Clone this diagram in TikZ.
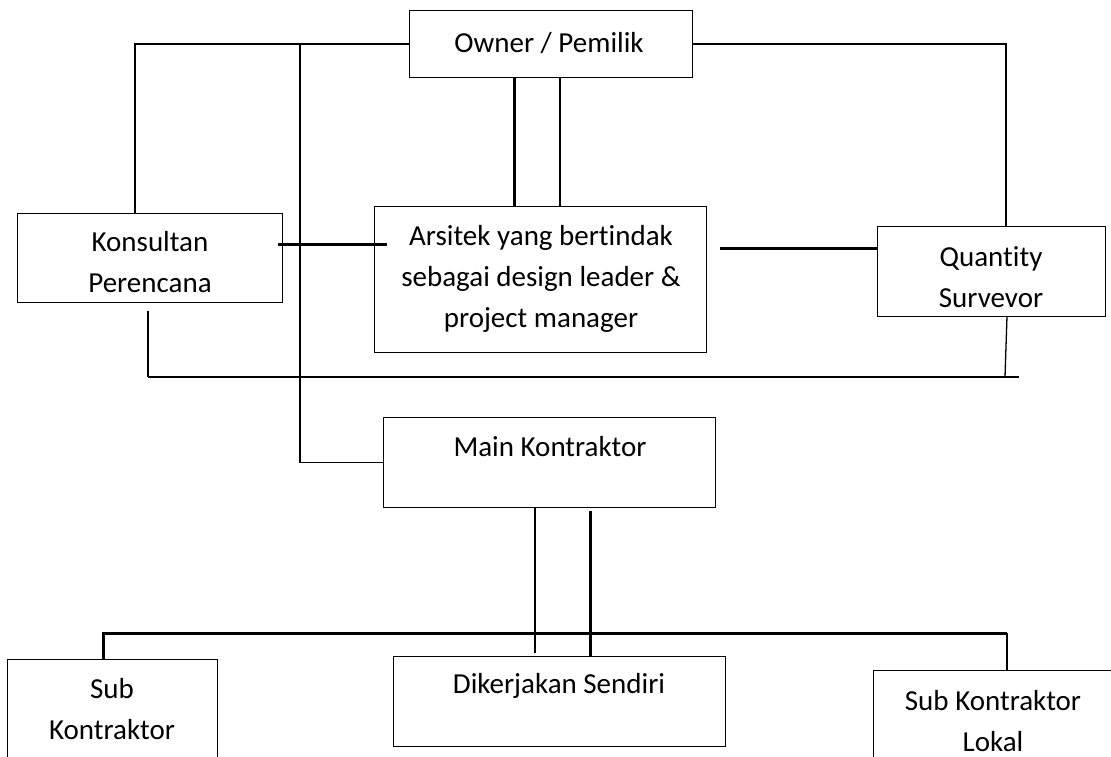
\documentclass[tikz,border=0pt]{standalone}
\usepackage{fontspec}
\setmainfont{Carlito}[Ligatures={NoCommon}]
\begin{document}
\begin{tikzpicture}[x=1pt,y=-1pt,
  box/.style={draw, line width=1.3pt, inner sep=0pt, anchor=north west},
  lbl/.style={align=center, inner sep=0pt, font=\fontsize{29}{41}\selectfont},
  thinln/.style={line width=1.3pt},
  midln/.style={line width=2pt},
  thickln/.style={line width=3pt}]
\useasboundingbox (0,0) rectangle (1111,757);
\clip (0,0) rectangle (1111,757);
% boxes
\node[box, minimum width=283pt, minimum height=67pt] (owner) at (409,10) {};
\node[box, minimum width=265pt, minimum height=89pt] (kons) at (17,213) {};
\node[box, minimum width=332pt, minimum height=146pt] (ars) at (374,206) {};
\node[box, minimum width=228pt, minimum height=90pt] (qs) at (877,226) {};
\node[box, minimum width=332pt, minimum height=90pt] (main) at (383,417) {};
\node[box, minimum width=332pt, minimum height=90pt] (dik) at (393,656) {};
\node[box, minimum width=210pt, minimum height=130pt] (sub) at (7,659) {};
\node[box, minimum width=242pt, minimum height=130pt] (lok) at (873,670) {};
% texts
\node[lbl] (owner-t) at (549,43) {Owner / Pemilik};
\node[lbl] (kons-t) at (150,262) {Konsultan\\Perencana};
\node[lbl] (ars-t) at (541,279) {Arsitek yang bertindak\\sebagai design leader \&\\project manager};
\node[lbl] (qs-t) at (991,277) {Quantity\\Survevor};
\node[lbl] (main-t) at (550,447) {Main Kontraktor};
\node[lbl] (dik-t) at (559,686) {Dikerjakan Sendiri};
\node[lbl] (sub-t) at (112,709) {Sub\\Kontraktor};
\node[lbl] (lok-t) at (993,721) {Sub Kontraktor\\Lokal};
% helper coordinates
\coordinate (kx) at (135,0);
\coordinate (bx) at (300,0);
\coordinate (v1) at (514,0);
\coordinate (v2) at (560,0);
\coordinate (qx) at (1006,0);
\coordinate (ka1) at (278,244);
\coordinate (ka2) at (387,244);
\coordinate (aq1) at (720,248);
\coordinate (bl1) at (148,311);
\coordinate (bl2) at (148,377);
\coordinate (bl3) at (1019,377);
\coordinate (ql1) at (1007,316);
\coordinate (ql2) at (1005,377);
\coordinate (m1) at (535,0);
\coordinate (m2) at (590,0);
\coordinate (hy) at (0,633);
\coordinate (sx) at (103,0);
\coordinate (lx) at (1007,0);
% connectors
\draw[thinln] (owner.west) -| (kons.north -| kx);
\draw[thinln] (owner.west -| bx) |- (main.west);
\draw[thickln] (owner.south -| v1) -- (ars.north -| v1);
\draw[thinln] (owner.south -| v2) -- (ars.north -| v2);
\draw[thinln] (owner.east) -| (qs.north -| qx);
\draw[thickln] (ka1) -- (ka2);
\draw[thickln] (aq1) -- (qs.west |- aq1);
\draw[thinln] (bl1) -- (bl2);
\draw[midln] (bl2) -- (bl3);
\draw[thinln] (ql1) -- (ql2);
\draw[thinln] (main.south -| m1) -- ([yshift=3pt]dik.north -| m1);
\draw[thickln] ([yshift=-3pt]main.south -| m2) -- (dik.north -| m2);
\draw[thickln] (sub.north -| sx) -- (hy -| sx) -- (hy -| lx);
\draw[thinln] (hy -| lx) -- (lok.north -| lx);
\end{tikzpicture}
\end{document}
